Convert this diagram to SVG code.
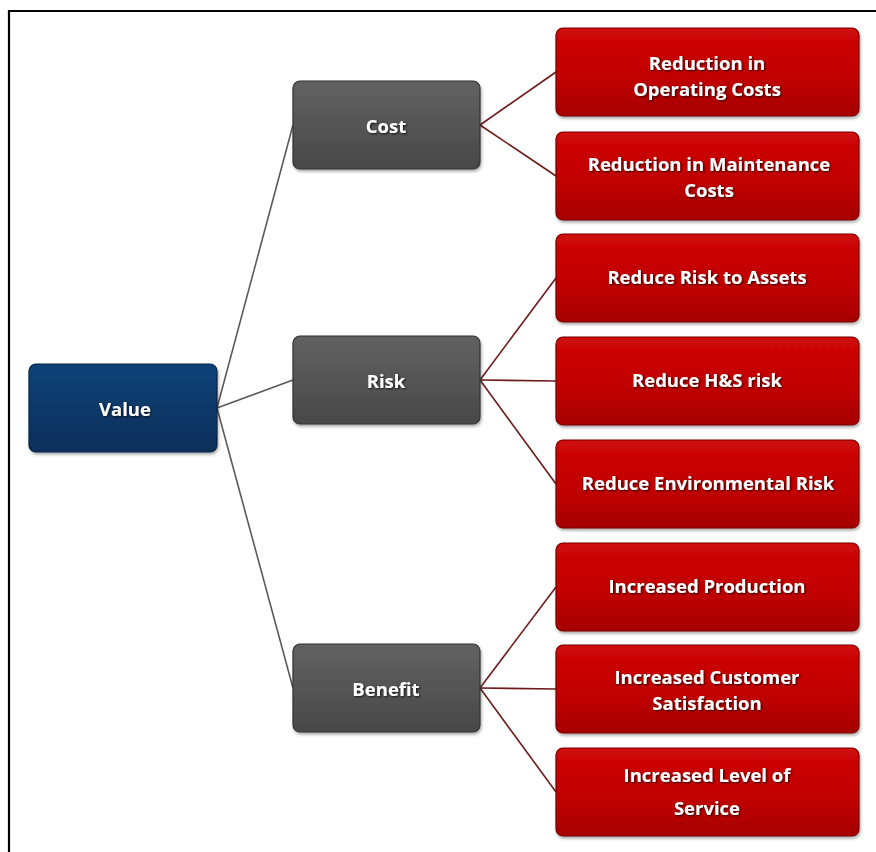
<svg xmlns="http://www.w3.org/2000/svg" width="876" height="852" viewBox="0 0 876 852">
  <defs>
    <linearGradient id="gRed" x1="0" y1="0" x2="0" y2="1">
      <stop offset="0" stop-color="#cf0808"/>
      <stop offset="0.6" stop-color="#c00000"/>
      <stop offset="1" stop-color="#a50000"/>
    </linearGradient>
    <linearGradient id="gGray" x1="0" y1="0" x2="0" y2="1">
      <stop offset="0" stop-color="#626262"/>
      <stop offset="1" stop-color="#484848"/>
    </linearGradient>
    <linearGradient id="gBlue" x1="0" y1="0" x2="0" y2="1">
      <stop offset="0" stop-color="#0f4278"/>
      <stop offset="1" stop-color="#092f5a"/>
    </linearGradient>
    <filter id="boxShadow" x="-10%" y="-10%" width="125%" height="130%">
      <feDropShadow dx="1" dy="2" stdDeviation="1.6" flood-color="#000" flood-opacity="0.35"/>
    </filter>
    <filter id="textShadow" x="-10%" y="-30%" width="120%" height="160%">
      <feDropShadow dx="1" dy="1" stdDeviation="0.8" flood-color="#000" flood-opacity="0.8"/>
    </filter>
  </defs>
  <style>
    .box { stroke-width: 1.2; filter: url(#boxShadow); }
    .red { fill: url(#gRed); stroke: #7a0000; }
    .gray { fill: url(#gGray); stroke: #333333; }
    .blue { fill: url(#gBlue); stroke: #062444; }
    .lbl { font-family: "Open Sans", "Liberation Sans", sans-serif; font-weight: bold; font-size: 18.5px; fill: #ffffff; text-anchor: middle; dominant-baseline: central; filter: url(#textShadow); }
    .c1 { stroke: #5a5a5a; stroke-width: 1.6; fill: none; }
    .c2 { stroke: #6e1a1a; stroke-width: 1.6; fill: none; }
  </style>

  <rect width="876" height="852" fill="#ffffff"/>
  <!-- frame -->
  <path d="M9 852 V11 H876" fill="none" stroke="#000" stroke-width="2.2"/>

  <g id="connectors">
    <line class="c1" x1="217" y1="408" x2="293" y2="125"/>
    <line class="c1" x1="217" y1="408" x2="293" y2="380"/>
    <line class="c1" x1="217" y1="408" x2="293" y2="688"/>
    <line class="c2" x1="480" y1="125" x2="556" y2="72"/>
    <line class="c2" x1="480" y1="125" x2="556" y2="176"/>
    <line class="c2" x1="480" y1="380" x2="556" y2="278"/>
    <line class="c2" x1="480" y1="380" x2="556" y2="381"/>
    <line class="c2" x1="480" y1="380" x2="556" y2="484"/>
    <line class="c2" x1="480" y1="688" x2="556" y2="587"/>
    <line class="c2" x1="480" y1="688" x2="556" y2="689"/>
    <line class="c2" x1="480" y1="688" x2="556" y2="792"/>
  </g>

  <g id="value">
    <rect class="box blue" x="29" y="364" width="188" height="88" rx="7"/>
    <text class="lbl" x="125" y="408">Value</text>
  </g>

  <g id="cost">
    <rect class="box gray" x="293" y="81" width="187" height="88" rx="7"/>
    <text class="lbl" x="386" y="125">Cost</text>
  </g>
  <g id="risk">
    <rect class="box gray" x="293" y="336" width="187" height="88" rx="7"/>
    <text class="lbl" x="386" y="380">Risk</text>
  </g>
  <g id="benefit">
    <rect class="box gray" x="293" y="644" width="187" height="88" rx="7"/>
    <text class="lbl" x="386" y="688">Benefit</text>
  </g>

  <g id="op-costs">
    <rect class="box red" x="556" y="28" width="303" height="88" rx="7"/>
    <text class="lbl" x="707" y="62">Reduction in</text>
    <text class="lbl" x="707" y="88">Operating Costs</text>
  </g>
  <g id="maint-costs">
    <rect class="box red" x="556" y="132" width="303" height="88" rx="7"/>
    <text class="lbl" x="709" y="163">Reduction in Maintenance</text>
    <text class="lbl" x="709" y="189">Costs</text>
  </g>
  <g id="risk-assets">
    <rect class="box red" x="556" y="234" width="303" height="88" rx="7"/>
    <text class="lbl" x="707" y="276">Reduce Risk to Assets</text>
  </g>
  <g id="hs-risk">
    <rect class="box red" x="556" y="337" width="303" height="88" rx="7"/>
    <text class="lbl" x="707" y="379">Reduce H&amp;S risk</text>
  </g>
  <g id="env-risk">
    <rect class="box red" x="556" y="440" width="303" height="88" rx="7"/>
    <text class="lbl" x="708" y="482">Reduce Environmental Risk</text>
  </g>
  <g id="production">
    <rect class="box red" x="556" y="543" width="303" height="88" rx="7"/>
    <text class="lbl" x="707" y="585">Increased Production</text>
  </g>
  <g id="satisfaction">
    <rect class="box red" x="556" y="645" width="303" height="88" rx="7"/>
    <text class="lbl" x="707" y="676">Increased Customer</text>
    <text class="lbl" x="707" y="702">Satisfaction</text>
  </g>
  <g id="service">
    <rect class="box red" x="556" y="748" width="303" height="88" rx="7"/>
    <text class="lbl" x="707" y="774">Increased Level of</text>
    <text class="lbl" x="707" y="807">Service</text>
  </g>
</svg>
